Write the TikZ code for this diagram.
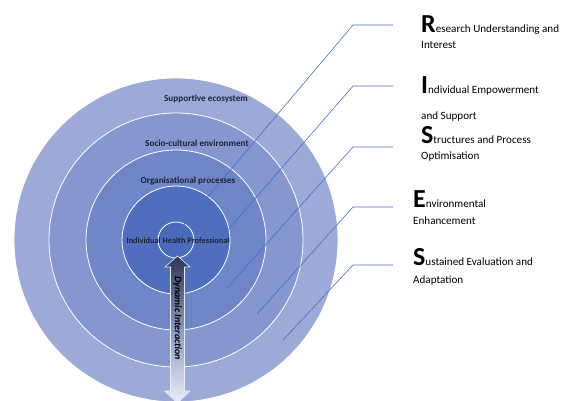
\documentclass[tikz,border=0pt]{standalone}
\usepackage{fontspec}
\setmainfont{Carlito}
\definecolor{ringA}{HTML}{9DAAD8}
\definecolor{ringB}{HTML}{8696CF}
\definecolor{ringC}{HTML}{6E86C8}
\definecolor{ringD}{HTML}{4F6FBE}
\definecolor{ringE}{HTML}{4A6BBC}
\definecolor{linkblue}{HTML}{4472C4}
\definecolor{labeltext}{HTML}{1E2236}
\definecolor{arrowtop}{HTML}{2A3756}
\definecolor{arrowmid}{HTML}{8B9AC0}
\definecolor{arrowbot}{HTML}{E8EDF8}
\newcommand\capletter[1]{{\fontsize{26}{26}\selectfont\bfseries #1}}
\begin{document}
\begin{tikzpicture}[x=1pt,y=-1pt,
  ring/.style={circle, draw=white, line width=0.8pt, inner sep=0pt, minimum size=#1},
  level/.style={font=\fontsize{9.2}{11}\selectfont\bfseries, text=labeltext, inner sep=0pt},
  link/.style={draw=linkblue, line width=0.6pt},
  entry/.style={anchor=base west, inner sep=0pt, font=\fontsize{11.1}{13}\selectfont, text=black},
]
\useasboundingbox (0,0) rectangle (562,400);
\begin{scope}
  \clip (0,0) rectangle (562,400);
  % concentric layers, outermost first
  \node[ring=324pt, fill=ringA] (eco) at (176,240) {};
  \node[ring=254pt, fill=ringB] (socio) at (176,240) {};
  \node[ring=180pt, fill=ringC] (org) at (176,240) {};
  \node[ring=108pt, fill=ringD] (indiv) at (176,240) {};
  \node[ring=36pt, fill=ringE] (core) at (176,240) {};

  % leader lines from the layers to the RISE headings
  \coordinate (e1) at (178,232); \coordinate (k1) at (353,25);  \coordinate (h1) at (393,25);
  \coordinate (e2) at (200,262); \coordinate (k2) at (353,86);  \coordinate (h2) at (393,86);
  \coordinate (e3) at (227,288); \coordinate (k3) at (353,147); \coordinate (h3) at (393,147);
  \coordinate (e4) at (257,314); \coordinate (k4) at (353,207); \coordinate (h4) at (393,207);
  \coordinate (e5) at (283,340); \coordinate (k5) at (353,265); \coordinate (h5) at (393,265);
  \foreach \i in {1,...,5} { \draw[link] (e\i) -- (k\i) -- (h\i); }

  % layer labels
  \node[level] (lEco) at (206,99) {Supportive ecosystem};
  \node[level] (lSocio) at (197,143) {Socio-cultural environment};
  \node[level] (lOrg) at (188,181) {Organisational processes};
  \node[level, font=\fontsize{8.3}{10}\selectfont\bfseries] (lIndiv) at (178,241) {Individual Health Professional};

  % double-headed interaction arrow
  \shadedraw[draw=white!85!gray, line width=0.6pt,
    top color=arrowtop, bottom color=arrowbot, middle color=arrowmid]
    (177.5,256) -- (190,267) -- (184.5,267) -- (184.5,391) -- (190,391)
    -- (177.5,403) -- (165,391) -- (170.5,391) -- (170.5,267) -- (165,267) -- cycle;
  \node[rotate=-90, inner sep=0pt, font=\fontsize{10}{12}\selectfont\bfseries\itshape]
    (dyn) at (177.5,318) {Dynamic Interaction};
\end{scope}

% RISE headings
\node[entry] (r1) at (421,32) {\capletter{R}esearch Understanding and};
\node[entry] (r1b) at (421,48) {Interest};
\node[entry] (r2) at (421,93) {\capletter{I}ndividual Empowerment};
\node[entry] (r2b) at (421,119) {and Support};
\node[entry] (r3) at (421,143) {\capletter{S}tructures and Process};
\node[entry] (r3b) at (421,159) {Optimisation};
\node[entry] (r4) at (413,207) {\capletter{E}nvironmental};
\node[entry] (r4b) at (413,224) {Enhancement};
\node[entry] (r5) at (413,265) {\capletter{S}ustained Evaluation and};
\node[entry] (r5b) at (413,283) {Adaptation};
\end{tikzpicture}
\end{document}
